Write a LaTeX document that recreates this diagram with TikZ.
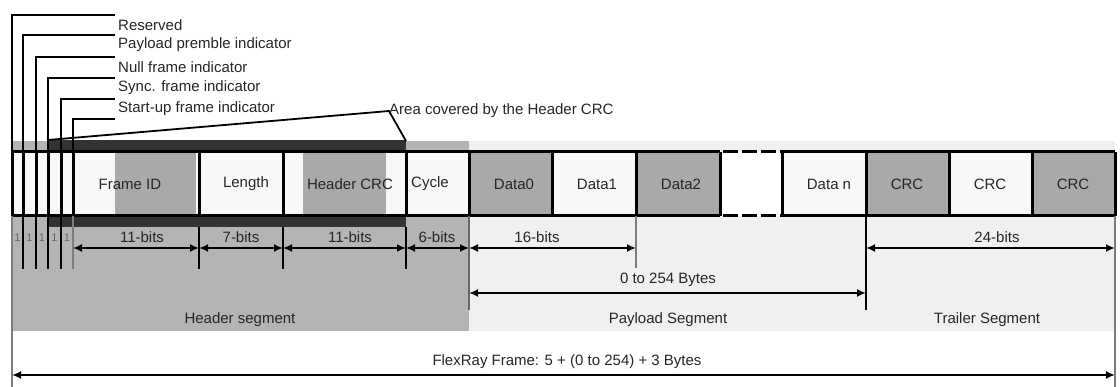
\documentclass[tikz,border=0pt]{standalone}
\usepackage{fontspec}
\setmainfont{Liberation Sans}
\usetikzlibrary{arrows.meta}
\definecolor{hdrgray}{HTML}{B4B4B4}
\definecolor{paygray}{HTML}{F0F0F0}
\definecolor{blockgray}{HTML}{A9A9A9}
\definecolor{bandgray}{HTML}{333333}
\definecolor{cellwhite}{HTML}{F8F8F8}
\definecolor{ink}{HTML}{262626}
\begin{document}
\begin{tikzpicture}[x=1pt,y=-1pt,
  lbl/.style={font=\fontsize{15}{16}\selectfont,text=ink,inner sep=0pt},
  bitlbl/.style={font=\fontsize{11}{12}\selectfont,text=ink!70,inner sep=0pt},
  dim/.style={line width=1.8pt,{Latex[length=9pt,width=8pt]}-{Latex[length=9pt,width=8pt]}},
  cellline/.style={line width=3pt},
  lead/.style={line width=1.8pt}]
\useasboundingbox (0,0) rectangle (1120,387);

% segment backgrounds
\fill[hdrgray] (12,141) rectangle (469,331);
\fill[paygray] (469,141) rectangle (1115,331);
\fill[bandgray] (48,140) rectangle (406,227);

% frame cells
\fill[cellwhite] (12,152) rectangle (1115,216);
\fill[white] (720,152) rectangle (782,216);
\fill[blockgray] (115,152) rectangle (196,216);
\fill[blockgray] (303,152) rectangle (386,216);
\foreach \a/\b in {469/552,636/720,866/949,1032/1115}
  \fill[blockgray] (\a,152) rectangle (\b,216);

\draw[cellline] (12,152) -- (720,152) (782,152) -- (1115,152);
\draw[cellline] (12,216) -- (720,216) (782,216) -- (1115,216);
\draw[cellline,dash pattern=on 15pt off 4pt] (723,152) -- (782,152) (723,216) -- (782,216);
\foreach \x in {12,23,36,48,61,73,199,283,406,469,552,636,720,782,866,949,1032,1115}
  \draw[cellline] (\x,152) -- (\x,216);

\foreach \x/\lab/\n in {130/Frame ID/fid,246/Length/len,350/Header CRC/hcrc,430/Cycle/cyc,
    514/Data0/dz,597/Data1/da,681/Data2/db,829/Data n/dn,907/CRC/crca,990/CRC/crcb,1073/CRC/crcc}
  \node[lbl] (\n) at (\x,184) {\lab};

% indicator bits
\foreach \x/\y/\lab/\n in {12/15/Reserved/res,23/35/Payload premble indicator/ppi,
    36/57/Null frame indicator/nfi,48/78/Sync. frame indicator/sfi,61/99/Start-up frame indicator/sup}
{
  \draw[lead] (\x,152) -- (\x,\y) -- (115,\y);
  \node[lbl,anchor=west] (\n) at (118,\y+10) {\lab};
}
\draw[lead] (73,152) -- (73,119) -- (115,119);
\foreach \x/\n in {17.5/1,29.5/2,42/3,54.5/4,67/5}
  \node[bitlbl] (bit\n) at (\x,238) {1};
\foreach \x in {23,36,48,61}
  \draw[line width=2.2pt] (\x,216) -- (\x,269);
\draw[line width=1.4pt,ink!60] (73,216) -- (73,269);

% area covered by the header CRC
\node[lbl,anchor=west] (area) at (389,111) {Area covered by the Header CRC};
\coordinate (areaL) at (48,140);
\coordinate (areaR) at (406,141);
\draw[lead] (areaL) -- (area.west) -- (areaR);

% field widths
\foreach \x/\n in {12/a,73/b,199/c,283/d,406/e,469/f,636/g,866/h,1115/i}
{
  \coordinate (t\n) at (\x,248);
  \coordinate (p\n) at (\x,293);
  \coordinate (f\n) at (\x,375);
}
\foreach \x in {199,283,406}
  \draw[line width=2.6pt] (\x,227) -- (\x,269);
\draw[line width=1.4pt,ink!60] (636,216) -- (636,268);
\draw[line width=1.6pt,ink!70] (469,216) -- (469,310);
\draw[line width=2.2pt] (866,216) -- (866,310);
\draw[line width=1.3pt,ink!60] (12,216) -- (12,387);
\draw[line width=1.3pt,ink!60] (1115,216) -- (1115,387);

\draw[dim] (tb) -- (tc);
\draw[dim] (tc) -- (td);
\draw[dim] (td) -- (te);
\draw[dim] (te) -- (tf);
\draw[dim] (tf) -- (tg);
\draw[dim] (th) -- (ti);
\draw[dim] (pf) -- (ph);
\draw[dim] (fa) -- (fi);

\foreach \x/\lab/\n in {142/11-bits/wfid,241/7-bits/wlen,350/11-bits/whcrc,437/6-bits/wcyc,
    537/16-bits/wdata,997/24-bits/wcrc}
  \node[lbl] (\n) at (\x,237) {\lab};
\node[lbl] (wpay) at (668,280) {0 to 254 Bytes};

% segment names
\node[lbl] (hseg) at (240,320) {Header segment};
\node[lbl] (pseg) at (668,320) {Payload Segment};
\node[lbl] (tseg) at (987,320) {Trailer Segment};
\node[lbl] (frame) at (567,362) {FlexRay Frame: 5 + (0 to 254) + 3 Bytes};
\end{tikzpicture}
\end{document}
